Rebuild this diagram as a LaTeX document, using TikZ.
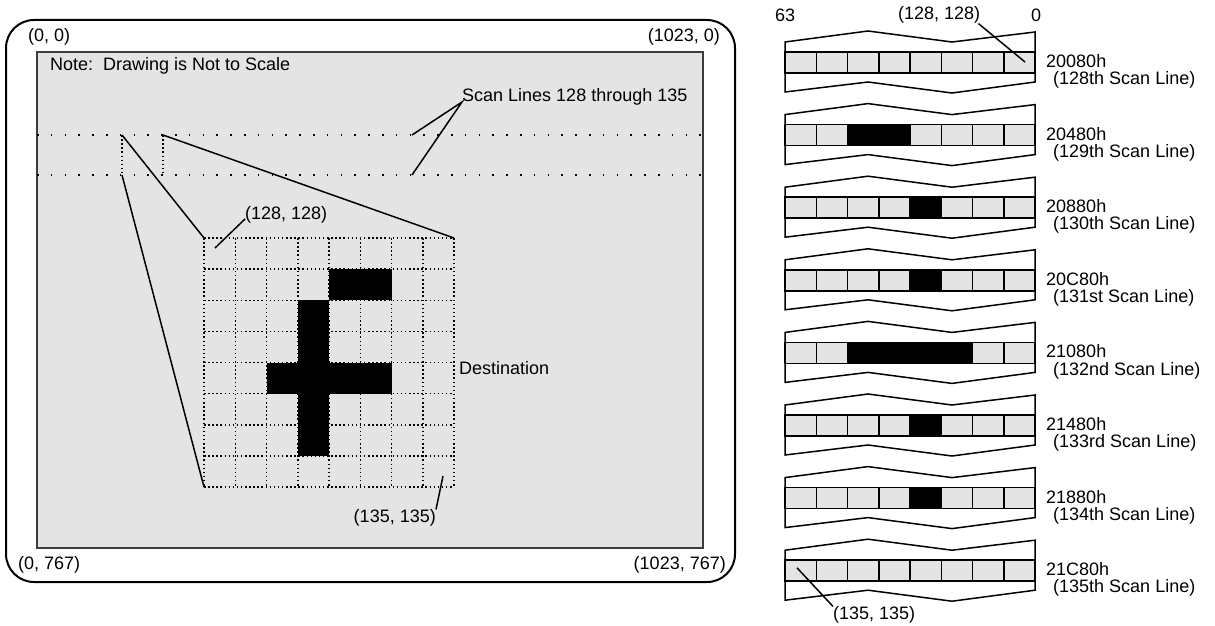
\documentclass[tikz,border=0pt]{standalone}
\usepackage{fontspec}
\setmainfont{Liberation Sans}
\usetikzlibrary{positioning}
\definecolor{panelgrey}{HTML}{E4E4E4}
\definecolor{edgegrey}{HTML}{3C3C3C}

\begin{document}
\begin{tikzpicture}[x=1pt, y=-1pt,
    every node/.style={font=\fontsize{18}{21}\selectfont, inner sep=0pt},
    lbl/.style={anchor=west},
    leader/.style={line width=1.5pt},
    scanline/.style={line width=1.6pt, dash pattern=on 1.6pt off 12.2pt},
    gridline/.style={line width=1.5pt, dash pattern=on 1.5pt off 2.6pt},
    cellbox/.style={draw=black, line width=1.5pt}]
  \useasboundingbox (0,0) rectangle (1215,626);

  % screen 1024 x 768
  \draw[line width=2pt, rounded corners=28pt] (6,20) rectangle (735,582);
  \filldraw[fill=panelgrey, draw=edgegrey, line width=1.6pt] (37,52) rectangle (703,548);
  \node[lbl] (c00) at (28,37) {(0, 0)};
  \node[anchor=east] (c10) at (720,37) {(1023, 0)};
  \node[lbl] (c01) at (18,565) {(0, 767)};
  \node[anchor=east] (c11) at (726,565) {(1023, 767)};
  \node[lbl] (note) at (50,66) {Note:\ \ Drawing is Not to Scale};

  % scan lines 128..135 and the 8 pixel window
  \draw[scanline] (37,135) -- (703,135);
  \draw[scanline] (37,175) -- (703,175);
  \draw[gridline] (122,135) -- (122,175) (163,135) -- (163,175);
  \coordinate (wTL) at (122,135);
  \coordinate (wTR) at (163,135);
  \coordinate (wBL) at (122,175);

  % destination grid, zoomed
  \foreach \k in {0,...,8} {
    \draw[gridline] (204+31.25*\k,238) -- (204+31.25*\k,487);
    \draw[gridline] (204,238+31.125*\k) -- (454,238+31.125*\k);
  }
  \foreach \col/\row in {4/1,5/1,3/2,3/3,2/4,3/4,4/4,5/4,3/5,3/6}
    \fill (204+31.25*\col,238+31.125*\row) rectangle ++(31.25,31.125);
  \coordinate (gTL) at (204,238);
  \coordinate (gTR) at (454,238);
  \coordinate (gBL) at (204,487);
  \draw[leader] (wTL) -- (gTL) (wTR) -- (gTR) (wBL) -- (gBL);

  \node[lbl] (scanlbl) at (462,97) {Scan Lines 128 through 135};
  \coordinate (s1) at (412,135);
  \coordinate (s2) at (412,175);
  \draw[leader] (s1) -- ([yshift=-5pt]scanlbl.west) -- (s2);

  \node[lbl] (p128) at (245,215) {(128, 128)};
  \coordinate (g128) at (215,248);
  \draw[leader] (g128) -- ([yshift=-4pt]p128.west);
  \node[anchor=east] (p135) at (436,518) {(135, 135)};
  \coordinate (g135) at (443,476);
  \draw[leader] (g135) -- (p135.north east);
  \node[lbl] (dest) at (459,368) {Destination};

  % memory, one strip per scan line
  \node[lbl] (msb) at (775,15) {63};
  \node[lbl] (r128) at (898,15) {(128, 128)};
  \node[lbl] (lsb) at (1031,15) {0};
  \foreach \i/\addr/\ord/\bits in {
      0/20080h/128th/{0,0,0,0,0,0,0,0},
      1/20480h/129th/{0,0,1,1,0,0,0,0},
      2/20880h/130th/{0,0,0,0,1,0,0,0},
      3/20C80h/131st/{0,0,0,0,1,0,0,0},
      4/21080h/132nd/{0,0,1,1,1,1,0,0},
      5/21480h/133rd/{0,0,0,0,1,0,0,0},
      6/21880h/134th/{0,0,0,0,1,0,0,0},
      7/21C80h/135th/{0,0,0,0,0,0,0,0}} {
    \begin{scope}[shift={(0,72.6*\i)}]
      \filldraw[fill=white, line width=1.5pt] (785,42) -- (868,31) -- (952,42) -- (1035,32)
        -- (1035,82) -- (952,93) -- (868,82) -- (785,92) -- cycle;
      \foreach \b [count=\col from 0] in \bits {
        \ifnum\b=1 \def\cellcol{black}\else\def\cellcol{panelgrey}\fi
        \filldraw[cellbox, fill=\cellcol] (785+31.25*\col,52) rectangle ++(31.25,21);
      }
      \node[lbl] (addr\i) at (1046,61) {\addr};
      \node[lbl] (desc\i) at (1053,80) {(\ord\ Scan Line)};
    \end{scope}
  }
  \coordinate (b128) at (1025,62);
  \draw[leader] ([xshift=-2pt]r128.south east) -- (b128);
  \node[lbl] (r135) at (833,615) {(135, 135)};
  \coordinate (b135) at (797,567.8);
  \draw[leader] (b135) -- (r135.north west);
\end{tikzpicture}
\end{document}
